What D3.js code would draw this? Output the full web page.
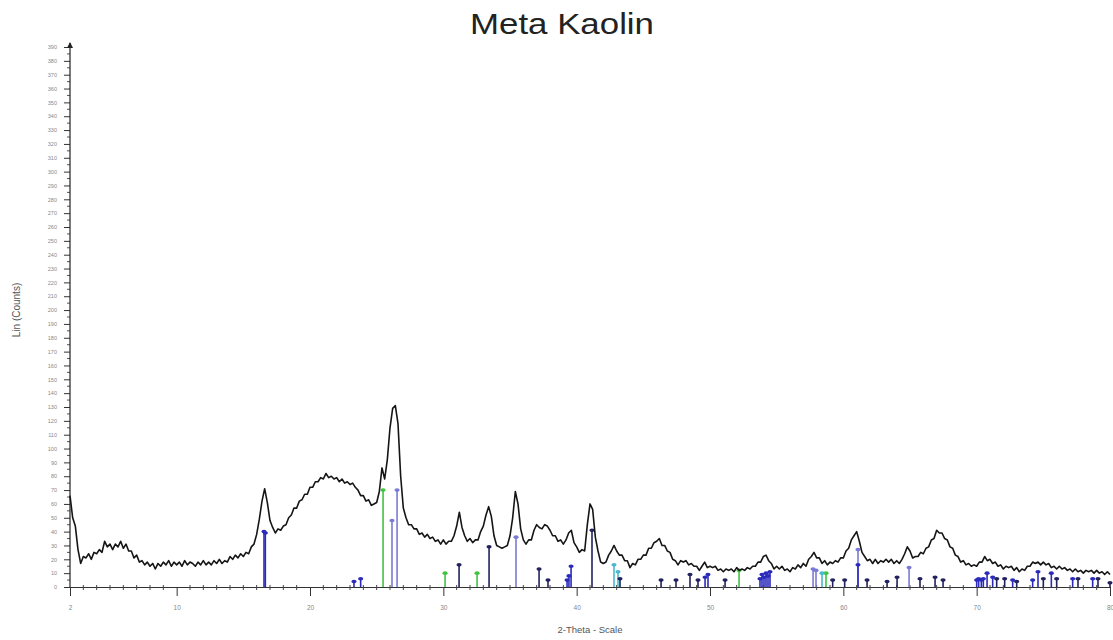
<!DOCTYPE html>
<html>
<head>
<meta charset="utf-8">
<script src="https://cdn.jsdelivr.net/npm/d3@7"></script>
<style>
  body { margin: 0; background: #fff; }
  svg { display: block; font-family: "Liberation Sans", Arial, sans-serif; }
</style>
</head>
<body>
<svg id="chart" width="1113" height="640"></svg>
<script>
// Diffractogram: start angle, step width and measured counts per step
const thetaStart = 2;
const thetaStep = 0.2;
const counts = [
  66, 50, 44, 27, 17, 22, 21, 24, 20, 25,   // 2.0 - 3.8
  24, 27, 25, 33, 29, 31, 27, 31, 29, 33,   // 4.0 - 5.8
  28, 31, 26, 26, 21, 23, 18, 19, 16, 18,   // 6.0 - 7.8
  15, 17, 13, 17, 15, 18, 16, 19, 15, 18,   // 8.0 - 9.8
  16, 18, 15, 19, 16, 18, 17, 15, 18, 16,   // 10.0 - 11.8
  19, 16, 18, 16, 19, 17, 20, 17, 19, 18,   // 12.0 - 13.8
  22, 20, 23, 21, 24, 22, 25, 24, 29, 31,   // 14.0 - 15.8
  38, 49, 62, 71, 61, 48, 43, 39, 42, 41,   // 16.0 - 17.8
  44, 45, 50, 52, 57, 57, 62, 63, 67, 67,   // 18.0 - 19.8
  72, 72, 76, 76, 79, 78, 82, 79, 80, 78,   // 20.0 - 21.8
  79, 76, 78, 75, 76, 74, 75, 72, 70, 66,   // 22.0 - 23.8
  66, 62, 63, 59, 60, 61, 69, 86, 78, 92,   // 24.0 - 25.8
  115, 129, 131, 118, 80, 57, 50, 45, 45, 42, // 26.0 - 27.8
  42, 38, 39, 36, 38, 35, 36, 33, 34, 31,   // 28.0 - 29.8
  34, 31, 33, 33, 37, 44, 54, 43, 37, 33,   // 30.0 - 31.8
  35, 32, 34, 34, 40, 44, 52, 58, 51, 37,   // 32.0 - 33.8
  30, 29, 28, 29, 30, 37, 50, 69, 60, 42,   // 34.0 - 35.8
  34, 31, 34, 34, 41, 45, 43, 42, 45, 44,   // 36.0 - 37.8
  41, 37, 37, 33, 34, 31, 34, 39, 41, 32,   // 38.0 - 39.8
  29, 25, 27, 26, 45, 60, 56, 36, 26, 18,   // 40.0 - 41.8
  17, 18, 23, 26, 30, 26, 23, 23, 19, 19,   // 42.0 - 43.8
  14, 17, 16, 20, 20, 23, 23, 28, 28, 32,   // 44.0 - 45.8
  33, 35, 30, 30, 26, 25, 20, 19, 16, 19,   // 46.0 - 47.8
  18, 19, 16, 17, 15, 15, 12, 15, 18, 14,   // 48.0 - 49.8
  15, 14, 15, 12, 13, 11, 13, 12, 13, 11,   // 50.0 - 51.8
  14, 12, 13, 12, 14, 13, 15, 15, 18, 18,   // 52.0 - 53.8
  22, 23, 19, 17, 13, 15, 13, 15, 12, 13,   // 54.0 - 55.8
  11, 14, 13, 16, 14, 17, 15, 20, 22, 25,   // 56.0 - 57.8
  21, 21, 17, 19, 16, 18, 17, 19, 18, 21,   // 58.0 - 59.8
  21, 26, 28, 34, 37, 40, 33, 25, 22, 19,   // 60.0 - 61.8
  20, 17, 20, 17, 19, 18, 20, 18, 20, 17,   // 62.0 - 63.8
  19, 17, 20, 24, 29, 26, 21, 22, 22, 25,   // 64.0 - 65.8
  24, 28, 29, 34, 35, 41, 39, 39, 35, 34,   // 66.0 - 67.8
  29, 28, 23, 22, 18, 19, 16, 17, 15, 16,   // 68.0 - 69.8
  15, 18, 18, 22, 19, 20, 17, 18, 15, 16,   // 70.0 - 71.8
  13, 15, 14, 15, 12, 14, 11, 13, 12, 15,   // 72.0 - 73.8
  15, 18, 17, 18, 16, 18, 16, 17, 14, 15,   // 74.0 - 75.8
  13, 15, 13, 14, 12, 13, 11, 13, 11, 12,   // 76.0 - 77.8
  10, 12, 11, 12, 10, 12, 10, 11, 9, 11,    // 78.0 - 79.8
  9                                         // 80.0
];

// Reference line patterns, [2-theta, intensity], grouped by phase colour
const phaseNavy = [
  [31.18, 16], [33.43, 29], [37.18, 13], [37.85, 5], [41.15, 41], [43.25, 6],
  [46.33, 5], [47.45, 5], [48.5, 9], [49.1, 5], [51.13, 5], [59.2, 5],
  [60.1, 5], [61.78, 5], [63.28, 4], [64.03, 7], [65.75, 6], [66.88, 7],
  [67.48, 5], [71.5, 6], [72.1, 6], [73.0, 4], [75.0, 6], [76.0, 6],
  [77.6, 6], [79.1, 6], [80.0, 3]
];
const phaseBlue = [
  [16.55, 40], [16.65, 39], [23.3, 4], [23.8, 6], [39.28, 5], [39.42, 8],
  [39.58, 15], [49.63, 7], [49.85, 9], [53.75, 6], [53.9, 9], [54.05, 7],
  [54.2, 10], [54.35, 8], [54.5, 11], [61.1, 16], [70.0, 5], [70.15, 6],
  [70.35, 5], [70.5, 6], [70.78, 10], [71.2, 7], [72.7, 5], [74.2, 5],
  [74.6, 11], [75.6, 10], [77.2, 6], [78.7, 6]
];
const phaseViolet = [
  [26.15, 48], [26.53, 70], [35.45, 36], [57.73, 13], [57.95, 12],
  [61.1, 27], [64.93, 14]
];
const phaseGreen = [
  [25.48, 70], [30.13, 10], [32.53, 10], [52.18, 12], [58.7, 10]
];
const phaseCyan = [
  [42.8, 16], [43.1, 11], [58.4, 10]
];

const phases = [
  { lines: phaseViolet, color: "#7a7ad6" },
  { lines: phaseGreen,  color: "#3fc43f" },
  { lines: phaseCyan,   color: "#4ab8cc" },
  { lines: phaseNavy,   color: "#22225e" },
  { lines: phaseBlue,   color: "#2b2bbb" }
];

const xTickValues = [2, 10, 20, 30, 40, 50, 60, 70, 80];
const yTickValues = d3.range(0, 391, 10);

const svg = d3.select("#chart");
const x = d3.scaleLinear().domain([2, 80]).range([70, 1110]);
const y = d3.scaleLinear().domain([0, 390]).range([587, 47]);

// Title
svg.append("text")
  .attr("x", 562).attr("y", 34)
  .attr("text-anchor", "middle")
  .attr("font-size", 30)
  .attr("textLength", 184)
  .attr("lengthAdjust", "spacingAndGlyphs")
  .attr("fill", "#222")
  .text("Meta Kaolin");

// Y axis
const yAxis = svg.append("g")
  .attr("transform", `translate(${x(2)},0)`)
  .call(d3.axisLeft(y).tickValues(yTickValues).tickSize(6).tickPadding(7));
yAxis.select(".domain").remove();
yAxis.selectAll("line").attr("stroke", "#333");
yAxis.selectAll("text").attr("font-size", 5.5).attr("fill", "#888");
yAxis.selectAll(".minor")
  .data(d3.range(5, 390, 10))
  .enter().append("line")
  .attr("x1", -3).attr("x2", 0)
  .attr("y1", d => y(d)).attr("y2", d => y(d))
  .attr("stroke", "#555");
svg.append("line")
  .attr("x1", x(2)).attr("x2", x(2))
  .attr("y1", y(0)).attr("y2", 43)
  .attr("stroke", "#222").attr("stroke-width", 1.2);
svg.append("path")
  .attr("d", `M${x(2) - 3},${48} L${x(2)},${42} L${x(2) + 3},${48} Z`)
  .attr("fill", "#222");

svg.append("text")
  .attr("transform", "translate(20,310) rotate(-90)")
  .attr("text-anchor", "middle")
  .attr("font-size", 10)
  .attr("fill", "#555")
  .text("Lin (Counts)");

// X axis
const xAxis = svg.append("g")
  .attr("transform", `translate(0,${y(0)})`)
  .call(d3.axisBottom(x).tickValues(xTickValues).tickSize(9).tickPadding(9));
xAxis.select(".domain").attr("stroke", "#333");
xAxis.selectAll("line").attr("stroke", "#333");
xAxis.selectAll("text").attr("font-size", 6.5).attr("fill", "#888");
xAxis.selectAll(".minor")
  .data(d3.range(3, 80, 1).filter(d => d % 10 !== 0))
  .enter().append("line")
  .attr("x1", d => x(d)).attr("x2", d => x(d))
  .attr("y1", -2).attr("y2", 3)
  .attr("stroke", "#444");

svg.append("text")
  .attr("x", 590).attr("y", 633)
  .attr("text-anchor", "middle")
  .attr("font-size", 9.5)
  .attr("fill", "#555")
  .text("2-Theta - Scale");

// Reference sticks with capped tops
phases.forEach(p => {
  const g = svg.append("g");
  g.selectAll("line")
    .data(p.lines)
    .enter().append("line")
    .attr("x1", d => x(d[0])).attr("x2", d => x(d[0]))
    .attr("y1", y(0)).attr("y2", d => y(d[1]))
    .attr("stroke", p.color).attr("stroke-width", 1.6);
  g.selectAll("ellipse")
    .data(p.lines)
    .enter().append("ellipse")
    .attr("cx", d => x(d[0])).attr("cy", d => y(d[1]))
    .attr("rx", 2.6).attr("ry", 1.8)
    .attr("fill", p.color);
});

// Measured pattern
const pattern = counts.map((c, i) => [thetaStart + i * thetaStep, c]);
svg.append("path")
  .datum(pattern)
  .attr("d", d3.line().x(d => x(d[0])).y(d => y(d[1])))
  .attr("fill", "none")
  .attr("stroke", "#151515")
  .attr("stroke-width", 1.6)
  .attr("stroke-linejoin", "round");
</script>
</body>
</html>
